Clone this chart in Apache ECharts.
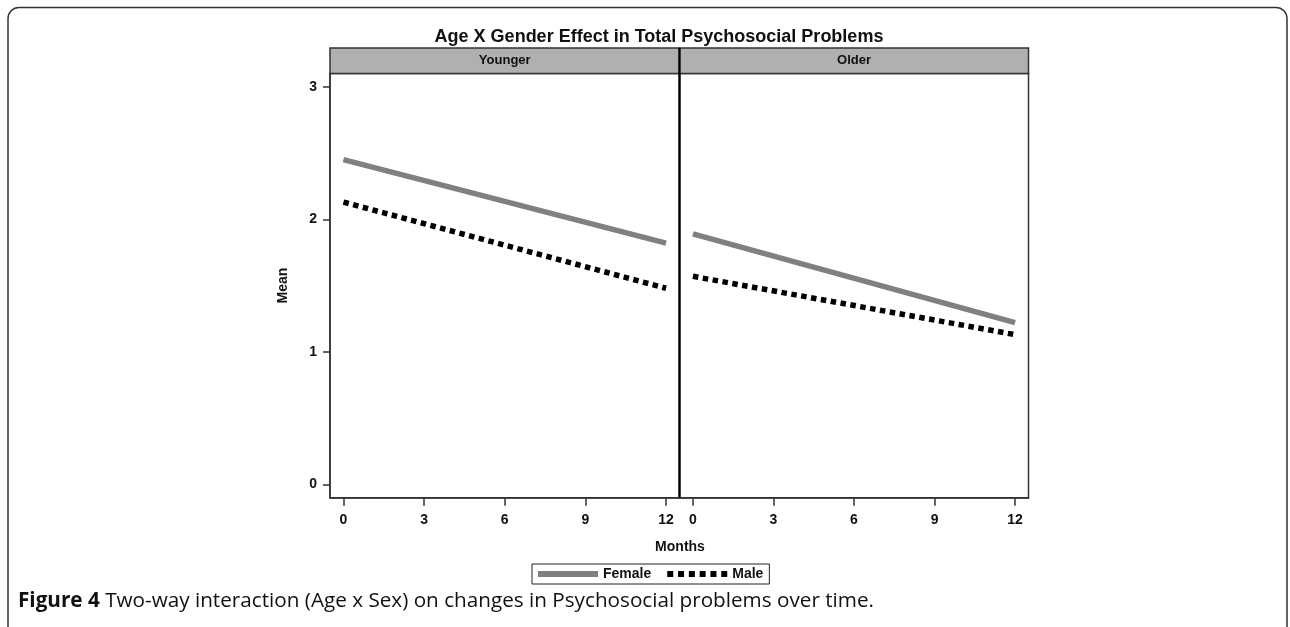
<!DOCTYPE html>
<html>
<head>
<meta charset="utf-8">
<style>
  html, body { margin: 0; padding: 0; background: #fff; }
  #chart { width: 1290px; height: 627px; }
</style>
<script src="https://cdn.jsdelivr.net/npm/echarts@6/dist/echarts.min.js"></script>
</head>
<body>
<div id="chart"></div>
<script>
// ---- data ----
const months = [0, 12];
const panels = ['Younger', 'Older'];
const youngerFemale = [2.45, 1.82];
const youngerMale = [2.13, 1.48];
const olderFemale = [1.89, 1.22];
const olderMale = [1.57, 1.13];
const xTicks = [0, 3, 6, 9, 12];
const yTicks = [0, 1, 2, 3];
const chartTitle = 'Age X Gender Effect in Total Psychosocial Problems';
const xTitle = 'Months';
const yTitle = 'Mean';
const captionBold = 'Figure 4';
const captionText = ' Two-way interaction (Age x Sex) on changes in Psychosocial problems over time.';

const FONT = '"Liberation Sans Narrow", "Liberation Sans", Arial, sans-serif';
const chart = echarts.init(document.getElementById('chart'));

const gridTop = 73.5, gridBottomY = 497.7;
const grids = [
  { left: 330, top: gridTop, width: 349.5, height: gridBottomY - gridTop },
  { left: 679.5, top: gridTop, width: 349, height: gridBottomY - gridTop }
];

function pairs(vals) { return months.map((m, i) => [m, vals[i]]); }

const femaleStyle = { color: '#808080', width: 5.5, type: 'solid', cap: 'butt' };
const maleStyle = { color: '#000', width: 5.5, type: [5.5, 4.5], cap: 'butt' };

const lblStyle = { color: '#111', fontFamily: FONT, fontSize: 14, fontWeight: 'bold' };

const xAxisBase = (gi) => ({
  type: 'value', gridIndex: gi, min: -0.5, max: 12.5,
  axisLine: { show: true, onZero: false, lineStyle: { color: '#333', width: 1.5 } },
  axisTick: { show: true, length: 8, customValues: xTicks, lineStyle: { color: '#333', width: 1.5 } },
  axisLabel: Object.assign({ customValues: xTicks, margin: 15 }, lblStyle),
  splitLine: { show: false }
});
const yAxisBase = (gi, show) => ({
  type: 'value', gridIndex: gi, min: -0.1, max: 3.1,
  axisLine: { show: show, onZero: false, lineStyle: { color: '#333', width: 1.5 } },
  axisTick: { show: show, length: 7, customValues: yTicks, lineStyle: { color: '#333', width: 1.5 } },
  axisLabel: Object.assign({ show: show, customValues: yTicks, margin: 13 }, lblStyle),
  splitLine: { show: false },
  name: show ? yTitle : '', nameLocation: 'middle', nameGap: 40, nameRotate: 90,
  nameTextStyle: lblStyle
});

const femaleIcon = 'path://M0,0h60v6h-60z';
const maleIcon = 'path://M0,0h6v6h-6z M10.8,0h6v6h-6z M21.6,0h6v6h-6z M32.4,0h6v6h-6z M43.2,0h6v6h-6z M54,0h6v6h-6z';

const option = {
  animation: false,
  backgroundColor: '#fff',
  title: {
    text: chartTitle, left: 654, top: 23, textAlign: 'center',
    textStyle: { fontFamily: FONT, fontSize: 18, fontWeight: 'bold', color: '#111' }
  },
  legend: {
    data: [{ name: 'Female', icon: femaleIcon }, { name: 'Male', icon: maleIcon }],
    left: 532, top: 564,
    itemWidth: 60, itemHeight: 6, itemGap: 16,
    borderColor: '#222', borderWidth: 1, padding: [3, 6],
    textStyle: { fontFamily: FONT, fontSize: 14, fontWeight: 'bold', color: '#111' }
  },
  grid: grids.map(g => Object.assign({ show: true, borderColor: '#333', borderWidth: 1.5, backgroundColor: 'transparent' }, g)),
  xAxis: [xAxisBase(0), xAxisBase(1)],
  yAxis: [yAxisBase(0, true), yAxisBase(1, false)],
  series: [
    { name: 'Female', type: 'line', xAxisIndex: 0, yAxisIndex: 0, data: pairs(youngerFemale), symbol: 'none', lineStyle: femaleStyle, itemStyle: { color: '#808080' } },
    { name: 'Male', type: 'line', xAxisIndex: 0, yAxisIndex: 0, data: pairs(youngerMale), symbol: 'none', lineStyle: maleStyle, itemStyle: { color: '#000' } },
    { name: 'Female', type: 'line', xAxisIndex: 1, yAxisIndex: 1, data: pairs(olderFemale), symbol: 'none', lineStyle: femaleStyle, itemStyle: { color: '#808080' } },
    { name: 'Male', type: 'line', xAxisIndex: 1, yAxisIndex: 1, data: pairs(olderMale), symbol: 'none', lineStyle: maleStyle, itemStyle: { color: '#000' } }
  ],
  graphic: [
    { type: 'rect', shape: { x: 8, y: 7.5, width: 1279, height: 700, r: 11 }, style: { fill: 'none', stroke: '#333', lineWidth: 1.5 }, silent: true, z: -10 },
    { type: 'rect', shape: { x: grids[0].left, y: 48, width: grids[0].width, height: gridTop - 48 }, style: { fill: '#b0b0b0', stroke: '#333', lineWidth: 1.5 }, silent: true },
    { type: 'rect', shape: { x: grids[1].left, y: 48, width: grids[1].width, height: gridTop - 48 }, style: { fill: '#b0b0b0', stroke: '#333', lineWidth: 1.5 }, silent: true },
    { type: 'text', x: grids[0].left + grids[0].width / 2, y: 60.5, style: { text: panels[0], fill: '#111', font: 'bold 13px ' + FONT, textAlign: 'center', textVerticalAlign: 'middle' }, silent: true },
    { type: 'text', x: grids[1].left + grids[1].width / 2, y: 60.5, style: { text: panels[1], fill: '#111', font: 'bold 13px ' + FONT, textAlign: 'center', textVerticalAlign: 'middle' }, silent: true },
    { type: 'line', shape: { x1: 679.5, y1: 48, x2: 679.5, y2: gridBottomY }, style: { stroke: '#000', lineWidth: 2.2 }, silent: true },
    { type: 'text', x: 680, y: 547, style: { text: xTitle, fill: '#111', font: 'bold 14px ' + FONT, textAlign: 'center', textVerticalAlign: 'middle' }, silent: true },
    { type: 'text', x: 18, y: 601, style: {
        text: '{b|' + captionBold + '}{r|' + captionText + '}',
        textVerticalAlign: 'middle',
        rich: {
          b: { fontFamily: '"Open Sans", "Noto Sans", sans-serif', fontSize: 20.7, fontWeight: 'bold', fill: '#111' },
          r: { fontFamily: '"Open Sans", "Noto Sans", sans-serif', fontSize: 20.7, fill: '#111' }
        }
      }, silent: true }
  ]
};
chart.setOption(option);
</script>
</body>
</html>
